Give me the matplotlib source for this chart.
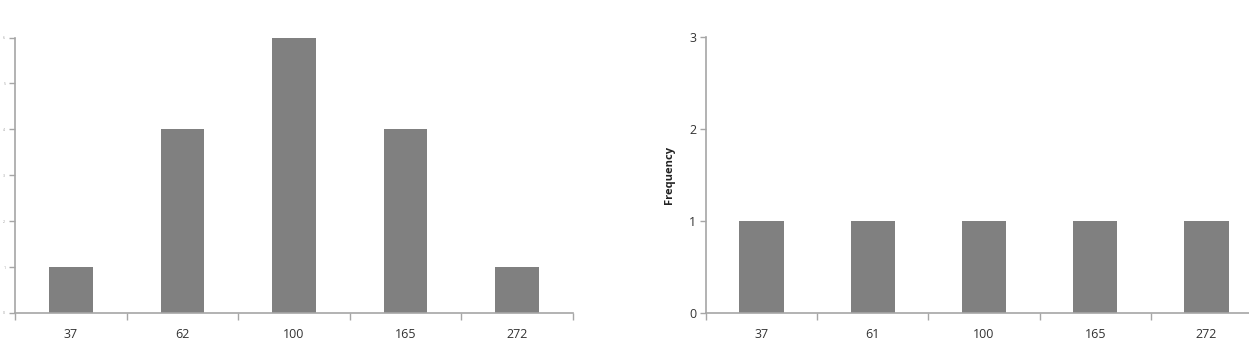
import matplotlib.pyplot as plt
import numpy as np

plt.rcParams['font.family'] = ['Open Sans', 'DejaVu Sans']

# left histogram
left_bins = ['37', '62', '100', '165', '272']
left_counts = [1, 4, 6, 4, 1]
left_yticks = [0, 1, 2, 3, 4, 5, 6]

# right histogram
right_bins = ['37', '61', '100', '165', '272']
right_counts = [1, 1, 1, 1, 1]
right_yticks = [0, 1, 2, 3]

bar_col = '#808080'
axis_col = '#a6a6a6'

fig = plt.figure(figsize=(12.49, 3.44), dpi=100)
ax1 = fig.add_axes([15/1249, 1 - 313/344, 558/1249, 275.5/344])
# right chart runs past the edge of the image (cropped)
ax2 = fig.add_axes([706/1249, 1 - 313/344, 556/1249, 276/344])


def style(ax, labels, counts, yticks, width, ysize, ycolor):
    x = np.arange(len(labels))
    ax.bar(x, counts, width=width, color=bar_col, zorder=2)
    ax.set_xlim(-0.5, len(labels) - 0.5)
    ax.set_ylim(yticks[0], yticks[-1])
    for s in ['top', 'right']:
        ax.spines[s].set_visible(False)
    for s in ['left', 'bottom']:
        ax.spines[s].set_color(axis_col)
        ax.spines[s].set_linewidth(1.2)
    # boundary ticks on x, labels at centres
    ax.set_xticks(np.arange(len(labels) + 1) - 0.5)
    ax.set_xticklabels([])
    ax.set_xticks(x, minor=True)
    ax.set_xticklabels(labels, minor=True, fontsize=9, color='#333333')
    ax.tick_params(axis='x', which='major', length=5, color=axis_col, width=1)
    ax.tick_params(axis='x', which='minor', length=0, pad=11)
    ax.set_yticks(yticks)
    ax.set_yticklabels([str(v) for v in yticks], fontsize=ysize, color=ycolor)
    ax.tick_params(axis='y', length=4, color=axis_col, width=1, pad=3)


style(ax1, left_bins, left_counts, left_yticks, 0.39, 2.5, '#999999')
style(ax2, right_bins, right_counts, right_yticks, 0.40, 9, '#333333')
ax2.set_ylabel('Frequency', fontsize=8, fontweight='bold', color='#222222', labelpad=10)

fig.savefig('out.png', dpi=100)
